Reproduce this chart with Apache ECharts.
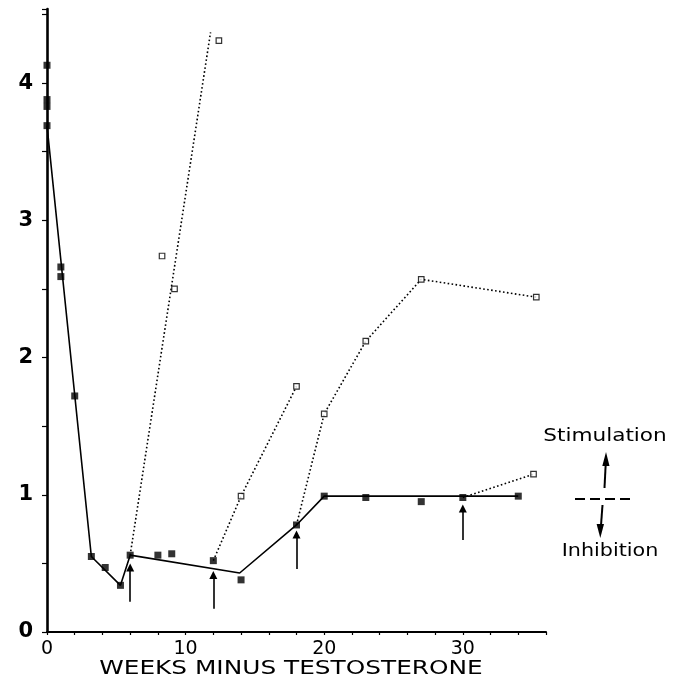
<!DOCTYPE html>
<html>
<head>
<meta charset="utf-8">
<script src="https://cdn.jsdelivr.net/npm/echarts@6/dist/echarts.min.js"></script>
<style>
html,body{margin:0;padding:0;background:#fff;}
#chart{width:675px;height:683px;}
</style>
</head>
<body>
<div id="chart"></div>
<script>
// ---- data ----
const xTickLabels = [0, 10, 20, 30];
const yTickLabels = [0, 1, 2, 3, 4];
const xAxisTitle = 'WEEKS MINUS TESTOSTERONE';
const keyUpText = 'Stimulation';
const keyDownText = 'Inhibition';

// measured points (filled squares)
const weeksFilled = [0, 0, 0, 0, 1, 1, 2, 3.2, 4.2, 5.3, 6, 8, 9, 12, 14, 18, 20, 23, 27, 30, 34];
const valuesFilled = [4.13, 3.88, 3.83, 3.69, 2.66, 2.59, 1.72, 0.55, 0.47, 0.34, 0.56, 0.56, 0.57, 0.52, 0.38, 0.78, 0.99, 0.98, 0.95, 0.98, 0.99];

// solid trend line
const fitWeeks = [0, 3.2, 5.3, 6, 13.9, 18, 20, 34];
const fitValues = [3.69, 0.55, 0.34, 0.56, 0.43, 0.78, 0.99, 0.99];

// open squares (after testosterone)
const weeksOpen = [8.3, 9.2, 12.4, 14, 18, 20, 23, 27, 35.3, 35.1];
const valuesOpen = [2.74, 2.50, 4.31, 0.99, 1.79, 1.59, 2.12, 2.57, 2.44, 1.15];

// dotted traces
const trace1Weeks = [6, 11.8];
const trace1Values = [0.56, 4.37];
const trace2Weeks = [12, 14, 18];
const trace2Values = [0.52, 0.99, 1.79];
const trace3Weeks = [18, 20, 23, 27, 35.3];
const trace3Values = [0.78, 1.59, 2.12, 2.57, 2.44];
const trace4Weeks = [30, 35.1];
const trace4Values = [0.98, 1.15];

// upward arrows (testosterone given)
const arrowWeeks = [6, 12, 18, 30];
const arrowBase = [0.22, 0.17, 0.46, 0.67];
const arrowTip = [0.47, 0.415, 0.71, 0.9];

// ---- build ----
const zip = (xs, ys) => xs.map((x, i) => [x, ys[i]]);
const dotted = (xs, ys) => ({
  type: 'line', data: zip(xs, ys), showSymbol: false, symbol: 'none',
  lineStyle: { color: '#000', width: 1.6, type: [1.6, 2.4] }, z: 2, silent: true
});

const chart = echarts.init(document.getElementById('chart'), null, { renderer: 'canvas' });
chart.setOption({
  backgroundColor: '#fff',
  animation: false,
  grid: { left: 47, right: 129, top: 9, bottom: 51, outerBoundsMode: 'none', containLabel: false },
  xAxis: {
    type: 'value', min: 0, max: 36, interval: 2,
    axisLine: { show: true, lineStyle: { color: '#000', width: 2 } },
    axisTick: { show: true, length: 3, lineStyle: { color: '#000', width: 1.2 } },
    splitLine: { show: false },
    axisLabel: {
      margin: 8, color: '#000', fontFamily: 'DejaVu Sans', fontSize: 19,
      formatter: v => xTickLabels.includes(v) ? String(v) : ''
    }
  },
  yAxis: {
    type: 'value', min: 0, max: 4.54, interval: 0.5,
    axisLine: { show: true, lineStyle: { color: '#000', width: 2.6 } },
    axisTick: { show: true, length: 5, lineStyle: { color: '#000', width: 1.2 } },
    splitLine: { show: false },
    axisLabel: {
      margin: 14, color: '#000', fontFamily: 'DejaVu Sans', fontWeight: 'bold', fontSize: 21,
      formatter: v => yTickLabels.includes(v) ? String(v) : ''
    }
  },
  series: [
    {
      type: 'line', data: zip(fitWeeks, fitValues), showSymbol: false, symbol: 'none',
      lineStyle: { color: '#000', width: 1.6 }, z: 3, silent: true
    },
    dotted(trace1Weeks, trace1Values),
    dotted(trace2Weeks, trace2Values),
    dotted(trace3Weeks, trace3Values),
    dotted(trace4Weeks, trace4Values),
    {
      type: 'scatter', data: zip(weeksFilled, valuesFilled), symbol: 'rect', symbolSize: 7,
      itemStyle: { color: '#000' }, z: 5, silent: true
    },
    {
      type: 'scatter', data: zip(weeksOpen, valuesOpen), symbol: 'rect', symbolSize: 5.5,
      itemStyle: { color: '#fff', borderColor: '#000', borderWidth: 1.2 }, z: 5, silent: true
    },
    {
      type: 'lines', coordinateSystem: 'cartesian2d', silent: true, z: 4,
      symbol: ['none', 'triangle'], symbolSize: [0, 8],
      lineStyle: { color: '#000', width: 1.6, opacity: 1 },
      data: arrowWeeks.map((w, i) => ({ coords: [[w, arrowBase[i]], [w, arrowTip[i]]] }))
    }
  ],
  graphic: [
    {
      type: 'text', x: 291, y: 669, scaleX: 1.24, silent: true,
      style: { text: xAxisTitle, fill: '#000', font: '20px "DejaVu Sans"', textAlign: 'center', textVerticalAlign: 'middle' }
    },
    {
      type: 'text', x: 605, y: 436, scaleX: 1.2, silent: true,
      style: { text: keyUpText, fill: '#000', font: '18px "DejaVu Sans"', textAlign: 'center', textVerticalAlign: 'middle' }
    },
    {
      type: 'text', x: 610, y: 551, scaleX: 1.15, silent: true,
      style: { text: keyDownText, fill: '#000', font: '18px "DejaVu Sans"', textAlign: 'center', textVerticalAlign: 'middle' }
    },
    {
      type: 'line', silent: true,
      shape: { x1: 604.5, y1: 488, x2: 605.8, y2: 462 },
      style: { stroke: '#000', lineWidth: 2 }
    },
    {
      type: 'polygon', silent: true,
      shape: { points: [[606, 452], [602.3, 466], [609.5, 466]] },
      style: { fill: '#000' }
    },
    {
      type: 'line', silent: true,
      shape: { x1: 575, y1: 499, x2: 630, y2: 499 },
      style: { stroke: '#000', lineWidth: 2, lineDash: [10, 5] }
    },
    {
      type: 'line', silent: true,
      shape: { x1: 602.5, y1: 505, x2: 600.8, y2: 528 },
      style: { stroke: '#000', lineWidth: 2 }
    },
    {
      type: 'polygon', silent: true,
      shape: { points: [[600.3, 538], [596.6, 524], [604, 524]] },
      style: { fill: '#000' }
    }
  ]
});
</script>
</body>
</html>
